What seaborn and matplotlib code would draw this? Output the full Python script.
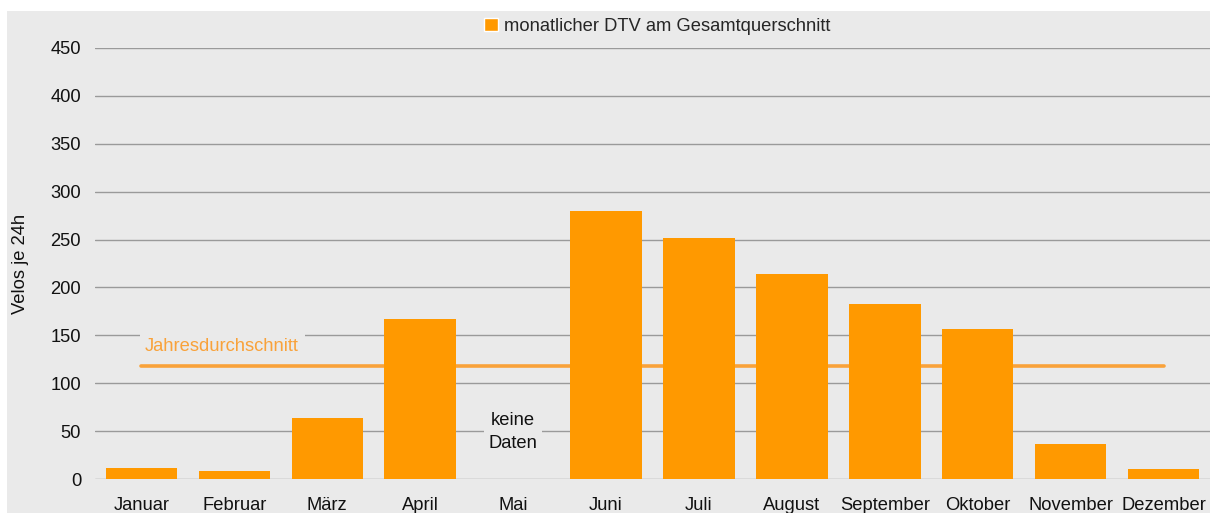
import numpy as np
import pandas as pd
import seaborn as sns
import matplotlib.pyplot as plt
from matplotlib.patches import Rectangle, Patch

months = ["Januar", "Februar", "März", "April", "Mai", "Juni", "Juli",
          "August", "September", "Oktober", "November", "Dezember"]
dtv = [11, 8, 64, 167, np.nan, 280, 252, 214, 183, 157, 37, 10]
jahresmittel = 118
series_label = "monatlicher DTV am Gesamtquerschnitt"
y_ticks = [0, 50, 100, 150, 200, 250, 300, 350, 400, 450]

bar_color = "#FF9900"
line_color = "#F9A23A"
bg = "#EAEAEA"
fs = 13.2

sns.set_theme(style="white")
plt.rcParams["font.family"] = ["Liberation Sans", "DejaVu Sans"]

df = pd.DataFrame({"Monat": months, "DTV": dtv})

fig = plt.figure(figsize=(12.1, 5.13), dpi=100)
fig.patch.set_facecolor("white")
fig.patches.append(Rectangle((7 / 1210, 0), 1 - 7 / 1210, 1 - 11 / 513,
                             transform=fig.transFigure, facecolor=bg,
                             edgecolor="none", zorder=-10))

ax = fig.add_axes([95 / 1210, 34 / 513, 1 - 95 / 1210, 431 / 513])
ax.set_facecolor(bg)

# annual average line, behind the bars
ax.plot([0, len(months) - 1], [jahresmittel, jahresmittel], color=line_color,
        lw=2.6, zorder=1.5, solid_capstyle="round")

sns.barplot(data=df, x="Monat", y="DTV", order=months, color=bar_color,
            saturation=1, width=0.77, linewidth=0, ax=ax, zorder=2)

ax.set_ylim(0, 450)
ax.set_xlim(-0.5, len(months) - 0.5)
ax.set_yticks(y_ticks)
ax.yaxis.grid(True, color="#9A9A9A", lw=1.0)
ax.set_axisbelow(True)
for s in ax.spines.values():
    s.set_visible(False)
ax.tick_params(axis="y", length=0, pad=10, labelsize=fs, labelcolor="#111111")
ax.tick_params(axis="x", length=0, pad=13, labelsize=fs, labelcolor="#111111")
ax.set_xlabel("")
ax.set_ylabel("Velos je 24h", fontsize=fs, color="#111111")
ax.yaxis.set_label_coords(-0.059, 0.5)

ax.text(0.04, 138, "Jahresdurchschnitt", color=line_color, fontsize=fs,
        ha="left", va="center",
        bbox=dict(facecolor=bg, edgecolor="none", pad=4))
ax.text(4, 49, "keine\nDaten", color="#111111", fontsize=fs, ha="center",
        va="center", linespacing=1.4,
        bbox=dict(facecolor=bg, edgecolor="none", pad=3))

fig.legend(handles=[Patch(facecolor=bar_color, label=series_label)],
           loc="center", bbox_to_anchor=(0.543, 0.949), frameon=False,
           fontsize=fs, handlelength=0.75, handleheight=0.75,
           handletextpad=0.35)

fig.savefig("out.png", dpi=100, facecolor="white")
